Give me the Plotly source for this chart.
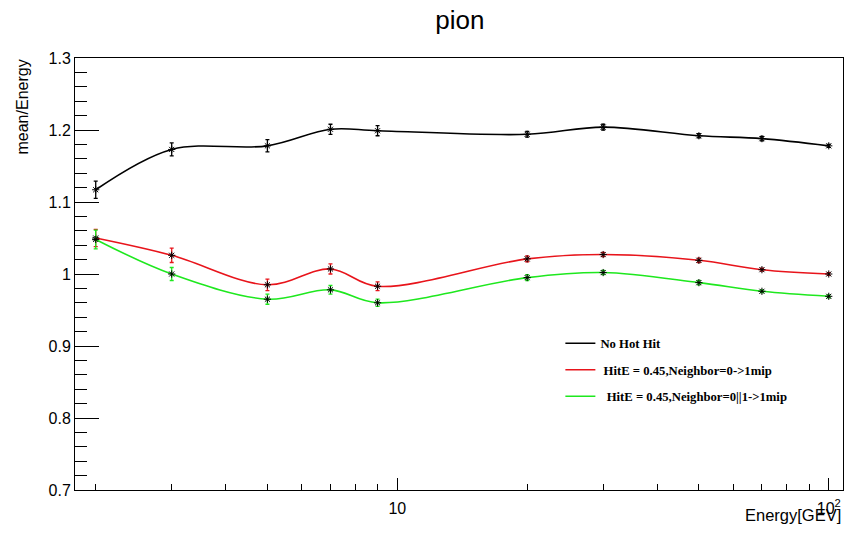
import plotly.graph_objects as go

# ---- data ----
energy = [2, 3, 5, 7, 9, 20, 30, 50, 70, 100]

no_hot_hit = [1.117, 1.173, 1.178, 1.201, 1.199, 1.194, 1.204, 1.192, 1.188, 1.178]
no_hot_hit_err = [0.012, 0.009, 0.0085, 0.007, 0.007, 0.004, 0.004, 0.003, 0.003, 0.002]

neigh_0 = [1.050, 1.026, 0.985, 1.007, 0.983, 1.021, 1.027, 1.019, 1.006, 1.000]
neigh_0_err = [0.012, 0.010, 0.008, 0.007, 0.006, 0.004, 0.003, 0.003, 0.002, 0.002]

neigh_01 = [1.048, 1.000, 0.965, 0.978, 0.960, 0.995, 1.002, 0.988, 0.976, 0.969]
neigh_01_err = [0.013, 0.009, 0.007, 0.006, 0.005, 0.004, 0.003, 0.003, 0.002, 0.002]

series_names = ["No Hot Hit",
                "\u00a0HitE = 0.45,Neighbor=0->1mip",
                "\u00a0\u00a0HitE = 0.45,Neighbor=0||1->1mip"]
series_colors = ["#000000", "#e8141b", "#1ee81e"]

y_tickvals = [0.7, 0.8, 0.9, 1.0, 1.1, 1.2, 1.3]
y_ticktext = ["0.7", "0.8", "0.9", "1", "1.1", "1.2", "1.3"]
x_tickvals = [10, 100]
x_ticktext = ["10", "10<sup>2</sup>"]
x_minor = [2, 3, 4, 5, 6, 7, 8, 9, 20, 30, 40, 50, 60, 70, 80, 90]

fig = go.Figure()
all_vals = [no_hot_hit, neigh_0, neigh_01]
all_errs = [no_hot_hit_err, neigh_0_err, neigh_01_err]

for i, (vals, errs, name, col) in enumerate(zip(all_vals, all_errs, series_names, series_colors)):
    fig.add_trace(go.Scatter(
        x=energy, y=vals, mode="lines", name=name,
        line=dict(color=col, width=1.6, shape="spline", smoothing=1.0),
        legendgroup=f"g{i}", showlegend=True,
    ))
    fig.add_trace(go.Scatter(
        x=energy, y=vals, mode="markers", name=name,
        marker=dict(symbol="asterisk-open", size=6, color="#000000",
                    line=dict(color="#000000", width=1)),
        error_y=dict(type="data", array=errs, visible=True, color=col,
                     thickness=1.3, width=2),
        legendgroup=f"g{i}", showlegend=False,
    ))

axis_font = dict(family="Liberation Sans, Arial, sans-serif", size=16, color="#000000")

fig.update_layout(
    width=851, height=534,
    margin=dict(l=75, r=8, t=58, b=44),
    paper_bgcolor="white", plot_bgcolor="white",
    showlegend=True,
    legend=dict(
        x=0.632, y=0.374, xanchor="left", yanchor="top",
        bgcolor="rgba(0,0,0,0)", borderwidth=0,
        font=dict(family="Liberation Serif, Times New Roman, serif", size=12.7,
                  color="#000000", weight="bold"),
        tracegroupgap=7,
    ),
    title=dict(text="pion", x=0.501, xanchor="center", xref="paper",
               y=1 - 20 / 534, yanchor="middle", yref="container",
               font=dict(family="Liberation Sans, Arial, sans-serif", size=26, color="#000000")),
)

fig.update_xaxes(
    type="log", range=[0.253, 2.033],
    tickmode="array", tickvals=x_tickvals, ticktext=x_ticktext,
    ticks="inside", ticklen=12, tickwidth=1, tickcolor="#000000",
    ticklabelstandoff=4,
    minor=dict(tickmode="array", tickvals=x_minor, ticks="inside", ticklen=6,
               tickwidth=1, tickcolor="#000000", showgrid=False),
    showline=True, linecolor="#000000", linewidth=1, mirror=True,
    showgrid=False, zeroline=False, tickfont=axis_font,
)
fig.update_yaxes(
    range=[0.7, 1.3],
    tickmode="array", tickvals=y_tickvals, ticktext=y_ticktext,
    ticks="inside", ticklen=24, tickwidth=1, tickcolor="#000000",
    minor=dict(dtick=0.02, tick0=0.7, ticks="inside", ticklen=12,
               tickwidth=1, tickcolor="#000000", showgrid=False),
    showline=True, linecolor="#000000", linewidth=1, mirror=True,
    showgrid=False, zeroline=False, tickfont=axis_font,
)

fig.add_annotation(text="mean/Energy", textangle=-90, xref="paper", yref="paper",
                   x=-0.069, y=1.0, xanchor="center", yanchor="top", showarrow=False,
                   font=axis_font)
fig.add_annotation(text="Energy[GEV]", xref="paper", yref="paper",
                   x=1.0, y=-0.058, xanchor="right", yanchor="middle", showarrow=False,
                   font=dict(family="Liberation Sans, Arial, sans-serif", size=16.5, color="#000000"))

fig.write_html("out.html", config={"displayModeBar": False},
               post_script="document.body.style.margin='0';")
